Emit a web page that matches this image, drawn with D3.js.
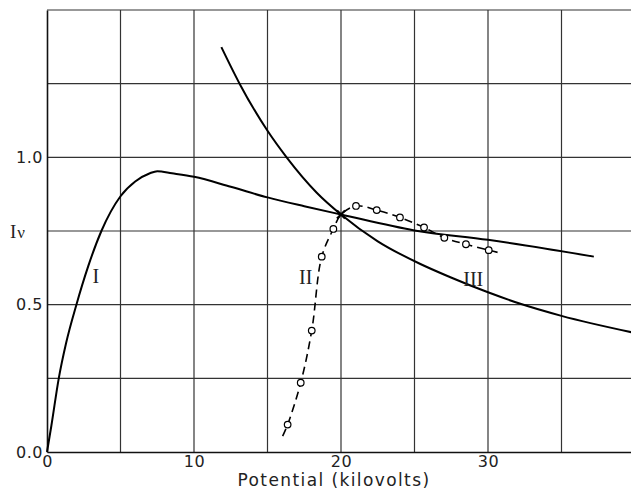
<!DOCTYPE html>
<html>
<head>
<meta charset="utf-8">
<script src="https://cdn.jsdelivr.net/npm/d3@7"></script>
<style>
  html, body { margin: 0; padding: 0; background: #fff; overflow: hidden; }
</style>
</head>
<body>
<div id="chart"></div>
<script>
// curve I: intensity against potential
const curveI = [
  [0, 0], [0.3, 0.09], [0.8, 0.25], [1.3, 0.37], [2.0, 0.5], [2.8, 0.63],
  [3.7, 0.75], [5.0, 0.868], [6.0, 0.918], [7.0, 0.946], [7.5, 0.953],
  [8.5, 0.946], [10, 0.934], [12.5, 0.9], [15, 0.864], [17.5, 0.834],
  [20, 0.806], [25, 0.752], [30, 0.72], [37.2, 0.663]
];
// curve III
const curveIII = [
  [11.86, 1.374], [13.1, 1.25], [15, 1.09], [16.3, 1.0], [18.35, 0.88],
  [20, 0.806], [22.5, 0.715], [25.4, 0.638], [27.4, 0.594], [30, 0.542],
  [32.2, 0.503], [35, 0.462], [39.8, 0.406]
];
// curve II (dashed) – measured points
const pointsII = [
  [16.37, 0.093], [17.26, 0.235], [18.01, 0.412], [18.69, 0.663],
  [19.48, 0.757], [21.02, 0.835], [22.43, 0.821], [24.01, 0.796],
  [25.65, 0.762], [27.03, 0.727], [28.5, 0.705], [30.05, 0.685]
];
// dashed line path through the points (plus its ends and the crossing)
const lineII = [
  [16.03, 0.054], [16.37, 0.093], [17.26, 0.235], [18.01, 0.412],
  [18.69, 0.663], [19.48, 0.757], [20, 0.806], [21.02, 0.835],
  [22.43, 0.821], [24.01, 0.796], [25.65, 0.762], [27.03, 0.727],
  [28.5, 0.705], [30.05, 0.685], [30.93, 0.674]
];
const crossing = [20, 0.806];

const xTicks = [0, 10, 20, 30];
const yTicks = [0, 0.5, 1.0];
const xGrid = [5, 10, 15, 20, 25, 30, 35];
const yGrid = [0.25, 0.5, 0.75, 1.0, 1.25, 1.5];

const curveLabels = [
  { text: "I", x: 3.33, y: 0.573 },
  { text: "II", x: 17.6, y: 0.57 },
  { text: "III", x: 29.0, y: 0.564 }
];

const W = 631, H = 491;
const svg = d3.select("#chart").append("svg")
  .attr("width", W).attr("height", H);

const x = d3.scaleLinear().domain([0, 40]).range([47, 635]);
const y = d3.scaleLinear().domain([0, 1.5]).range([452, 10]);

// grid
svg.append("g").selectAll("line").data(xGrid).enter().append("line")
  .attr("x1", d => x(d)).attr("x2", d => x(d))
  .attr("y1", y(0)).attr("y2", y(1.5))
  .attr("stroke", "#333").attr("stroke-width", 1.2);

svg.append("g").selectAll("line").data(yGrid).enter().append("line")
  .attr("x1", x(0)).attr("x2", x(40))
  .attr("y1", d => y(d)).attr("y2", d => y(d))
  .attr("stroke", "#333").attr("stroke-width", 1.2);

// axes
const tickFont = "'DejaVu Sans', sans-serif";
const xAxis = svg.append("g")
  .attr("transform", `translate(0,${y(0)})`)
  .call(d3.axisBottom(x).tickValues(xTicks).tickSize(0).tickPadding(4).tickFormat(d3.format("d")));
const yAxis = svg.append("g")
  .attr("transform", `translate(${x(0)},0)`)
  .call(d3.axisLeft(y).tickValues(yTicks).tickSize(0).tickPadding(4).tickFormat(d3.format(".1f")));

[xAxis, yAxis].forEach(a => {
  a.select(".domain").attr("stroke", "#111").attr("stroke-width", 1.6);
  a.selectAll("text")
    .style("font-family", tickFont)
    .style("font-size", "16px")
    .style("letter-spacing", "0.5px")
    .attr("fill", "#222");
});

svg.append("text")
  .attr("x", 334).attr("y", 486)
  .attr("text-anchor", "middle")
  .style("font-family", tickFont)
  .style("font-size", "17px")
  .style("letter-spacing", "1.4px")
  .attr("fill", "#222")
  .text("Potential (kilovolts)");

const yLab = svg.append("text")
  .attr("x", 10).attr("y", 238)
  .style("font-family", "'Liberation Serif', serif")
  .style("font-size", "19px")
  .attr("fill", "#222");
yLab.append("tspan").text("I");
yLab.append("tspan").style("font-size", "17px").attr("dx", 1).text("ν");

// curves
const smooth = d3.line()
  .x(d => x(d[0])).y(d => y(d[1]))
  .curve(d3.curveMonotoneX);
const dashed = d3.line()
  .x(d => x(d[0])).y(d => y(d[1]))
  .curve(d3.curveCatmullRom.alpha(0.5));

svg.append("path").datum(curveI)
  .attr("d", smooth).attr("fill", "none")
  .attr("stroke", "#000").attr("stroke-width", 2);

svg.append("path").datum(curveIII)
  .attr("d", smooth).attr("fill", "none")
  .attr("stroke", "#000").attr("stroke-width", 2);

svg.append("path").datum(lineII)
  .attr("d", dashed).attr("fill", "none")
  .attr("stroke", "#000").attr("stroke-width", 1.6)
  .attr("stroke-dasharray", "8,5");

svg.append("g").selectAll("circle").data(pointsII).enter().append("circle")
  .attr("cx", d => x(d[0])).attr("cy", d => y(d[1]))
  .attr("r", 3.3)
  .attr("fill", "#fff").attr("stroke", "#000").attr("stroke-width", 1.2);

// crossing mark
const cx = x(crossing[0]), cy = y(crossing[1]);
svg.append("path")
  .attr("d", `M${cx - 4},${cy - 4}L${cx + 4},${cy + 4}M${cx - 4},${cy + 4}L${cx + 4},${cy - 4}`)
  .attr("stroke", "#000").attr("stroke-width", 2.2);

// curve labels
svg.append("g").selectAll("text").data(curveLabels).enter().append("text")
  .attr("x", d => x(d.x)).attr("y", d => y(d.y))
  .attr("text-anchor", "middle")
  .style("font-family", "'Liberation Serif', serif")
  .style("font-size", "20px")
  .attr("fill", "#222")
  .text(d => d.text);
</script>
</body>
</html>
